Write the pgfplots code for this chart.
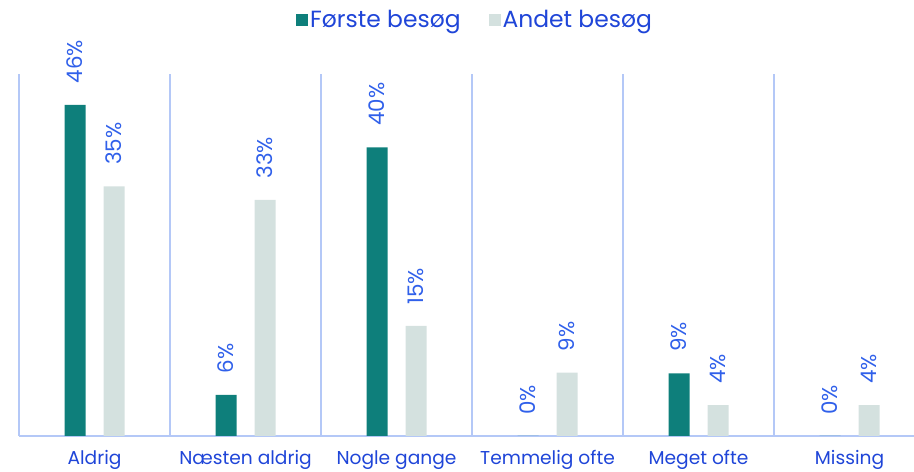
\documentclass[border=0pt]{standalone}
\usepackage{pgfplots}
\pgfplotsset{compat=1.18}
\usepackage{fontspec}
\setmainfont{Poppins}
\definecolor{teal1}{HTML}{0E7F7B}
\definecolor{grey1}{HTML}{D4E1DF}
\definecolor{txtblue}{HTML}{1F45D8}
\definecolor{lblblue}{HTML}{3060EA}
\definecolor{sepblue}{HTML}{B4C8F7}
\begin{document}
\begin{tikzpicture}
\useasboundingbox (0,0) rectangle (914bp,472bp);
\begin{axis}[
  at={(19bp,36bp)}, anchor=south west,
  scale only axis, width=895bp, height=362bp,
  xmin=-0.5, xmax=5.427, ymin=0, ymax=50.3,
  clip=false,
  ybar, bar width=21bp,
  axis x line*=bottom, axis y line=none,
  axis line style={color=sepblue, line width=1.6bp},
  xtick={0,1,2,3,4,5},
  xticklabels={Aldrig, Næsten aldrig, Nogle gange, Temmelig ofte, Meget ofte, Missing},
  major tick length=0pt,
  x tick label style={font=\fontsize{18.7}{20}\selectfont, text=txtblue, yshift=-11bp},
  extra x ticks={-0.5,0.5,1.5,2.5,3.5,4.5},
  extra x tick labels={},
  extra x tick style={grid=major, major grid style={color=sepblue, line width=1.5bp}, major tick length=0pt},
  point meta=explicit symbolic,
  nodes near coords={\pgfplotspointmeta\%},
  every node near coord/.append style={rotate=90, anchor=west, xshift=18bp, font=\fontsize{21.5}{23}\selectfont, text=lblblue},
  legend columns=2,
  legend style={at={(0.5095,1.149)}, anchor=center, draw=none, fill=none,
    font=\fontsize{23.5}{25}\selectfont, text=txtblue,
    /tikz/every even column/.append style={column sep=26bp}},
  legend image code/.code={\fill[#1] (-6bp,-6bp) rectangle (6bp,6bp);},
]
\addplot[fill=teal1, draw=none, bar shift=-19.5bp] coordinates {
  (0,46.0) [46] (1,5.7) [6] (2,40.1) [40] (3,0) [0] (4,8.7) [9] (5,0) [0]};
\addplot[fill=grey1, draw=none, bar shift=19.5bp] coordinates {
  (0,34.7) [35] (1,32.8) [33] (2,15.3) [15] (3,8.8) [9] (4,4.3) [4] (5,4.3) [4]};
\legend{Første besøg, Andet besøg}
\end{axis}
\end{tikzpicture}
\end{document}
